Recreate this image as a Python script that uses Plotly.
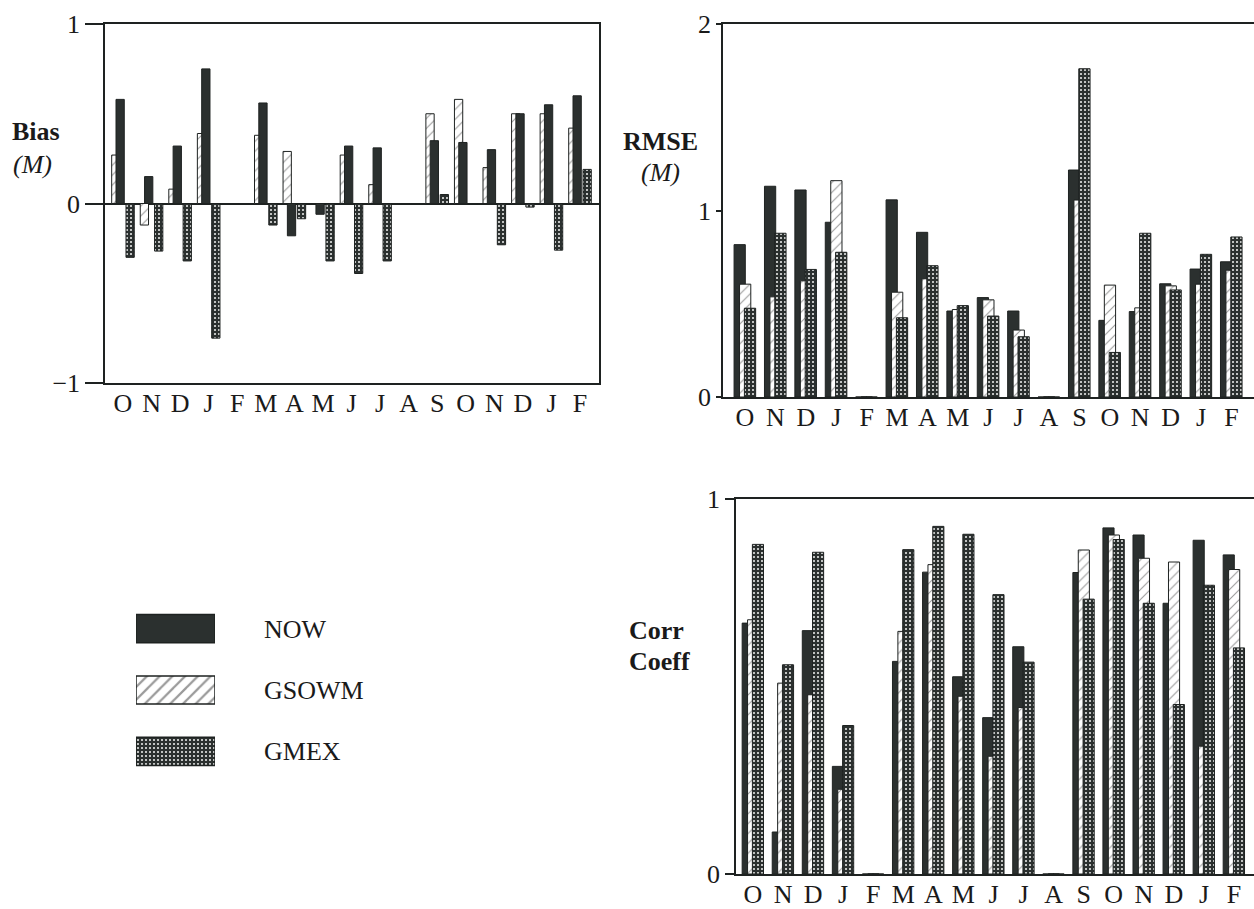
import plotly.graph_objects as go

# ---------------- data ----------------
months = ["O", "N", "D", "J", "F", "M", "A", "M", "J", "J", "A", "S", "O", "N", "D", "J", "F"]
series = ["NOW", "GSOWM", "GMEX"]

bias_now   = [0.58, 0.15, 0.32, 0.75, 0.0, 0.56, -0.18, -0.06, 0.32, 0.31, 0.0, 0.35, 0.34, 0.30, 0.50, 0.55, 0.60]
bias_gsowm = [0.27, -0.12, 0.08, 0.39, 0.0, 0.38, 0.29, 0.0, 0.27, 0.105, 0.0, 0.50, 0.58, 0.20, 0.50, 0.50, 0.42]
bias_gmex  = [-0.30, -0.265, -0.32, -0.75, 0.0, -0.12, -0.085, -0.32, -0.39, -0.32, 0.0, 0.05, -0.005, -0.23, -0.02, -0.26, 0.19]

rmse_now   = [0.817, 1.13, 1.11, 0.937, 0.0, 1.057, 0.883, 0.461, 0.533, 0.461, 0.0, 1.217, 0.411, 0.458, 0.607, 0.686, 0.725]
rmse_gsowm = [0.605, 0.537, 0.623, 1.16, 0.0, 0.562, 0.634, 0.469, 0.521, 0.359, 0.0, 1.056, 0.600, 0.478, 0.596, 0.605, 0.680]
rmse_gmex  = [0.476, 0.878, 0.684, 0.776, 0.0, 0.425, 0.704, 0.490, 0.434, 0.323, 0.0, 1.760, 0.239, 0.878, 0.574, 0.765, 0.858]

corr_now   = [0.669, 0.112, 0.649, 0.287, 0.0, 0.567, 0.805, 0.526, 0.417, 0.606, 0.0, 0.804, 0.923, 0.904, 0.722, 0.890, 0.851]
corr_gsowm = [0.678, 0.509, 0.478, 0.226, 0.0, 0.647, 0.825, 0.474, 0.314, 0.444, 0.0, 0.864, 0.904, 0.842, 0.832, 0.341, 0.812]
corr_gmex  = [0.879, 0.558, 0.858, 0.396, 0.0, 0.865, 0.927, 0.906, 0.745, 0.565, 0.0, 0.733, 0.892, 0.722, 0.452, 0.770, 0.603]

legend_len = [1, 1, 1]

# ---------------- styling ----------------
W, H = 1254, 909
def px(x):
    return x / W
def py(y):
    return (H - y) / H

DARK = "#2b302f"
LINE = "#1e2221"
FONT = "Liberation Serif"

STY = {
    "NOW":   dict(color=DARK, shape="", fg=DARK, bg=DARK, size=8, sol=0.3),
    "GSOWM": dict(color="white", shape="/", fg="#9a9a9a", bg="white", size=7, sol=0.15),
    "GMEX":  dict(color=DARK, shape=".", fg="#f4f4f4", bg=DARK, size=4, sol=0.2),
}

def bar(name, x, y, xa, ya, offset, width, orientation="v", lw=1, size=None, sol=None):
    s = STY[name]
    return go.Bar(
        x=x, y=y, name=name, xaxis=xa, yaxis=ya, showlegend=False, orientation=orientation,
        offset=offset, width=width,
        marker=dict(color=s["color"], line=dict(color=LINE, width=lw),
                    pattern=dict(shape=s["shape"], fgcolor=s["fg"], bgcolor=s["bg"],
                                 size=size or s["size"], solidity=sol or s["sol"],
                                 fillmode="replace")),
        hoverinfo="x+y+name",
    )

idx = list(range(len(months)))
fig = go.Figure()

# Bias panel (GSOWM drawn first, then NOW, then GMEX)
bw = 0.29
fig.add_trace(bar("GSOWM", idx, bias_gsowm, "x", "y", -0.396, bw))
fig.add_trace(bar("NOW", idx, bias_now, "x", "y", -0.245, bw))
fig.add_trace(bar("GMEX", idx, bias_gmex, "x", "y", 0.105, bw))

# RMSE panel
rw = 0.37
fig.add_trace(bar("NOW", idx, rmse_now, "x2", "y2", -0.36, rw))
fig.add_trace(bar("GSOWM", idx, rmse_gsowm, "x2", "y2", -0.18, rw))
fig.add_trace(bar("GMEX", idx, rmse_gmex, "x2", "y2", -0.02, rw))

# Corr panel
fig.add_trace(bar("NOW", idx, corr_now, "x3", "y3", -0.36, rw))
fig.add_trace(bar("GSOWM", idx, corr_gsowm, "x3", "y3", -0.18, rw))
fig.add_trace(bar("GMEX", idx, corr_gmex, "x3", "y3", -0.02, rw))

# Legend swatches drawn as a small horizontal bar chart (one trace per series)
for i, s in enumerate(series):
    tr = bar(s, [legend_len[i]], [s], "x4", "y4", -0.23, 0.46, orientation="h", lw=1.5,
             size=9 if s == "GSOWM" else None, sol=0.25 if s == "GSOWM" else None)
    tr.hoverinfo = "skip"
    fig.add_trace(tr)

tickfont = dict(family=FONT, size=26, color="#1a1a1a")
common_x = dict(tickvals=idx, ticktext=months, ticks="", showgrid=False, zeroline=False,
                showline=True, linecolor=LINE, linewidth=1.5, tickfont=tickfont,
                ticklabelstandoff=-4, fixedrange=True, automargin=False)
common_y = dict(showgrid=False, showline=True, linecolor=LINE, linewidth=1.5,
                ticks="outside", tickcolor=LINE, tickwidth=1.5, tickfont=tickfont,
                fixedrange=True, automargin=False)

fig.update_layout(
    width=W, height=H,
    margin=dict(l=0, r=0, t=0, b=0),
    paper_bgcolor="white", plot_bgcolor="white",
    barmode="overlay",
    font=dict(family=FONT, color="#1a1a1a"),
    xaxis=dict(common_x, domain=[px(105), px(599)], range=[-0.63, 16.665], anchor="y", mirror=True),
    yaxis=dict(common_y, domain=[py(383), py(24)], range=[-1, 1], tickvals=[-1, 0, 1],
               ticklen=18, anchor="x", mirror=True,
               zeroline=True, zerolinecolor=LINE, zerolinewidth=1.5),
    xaxis2=dict(common_x, domain=[px(723), 1.0], range=[-0.724, 16.743], anchor="y2", mirror=True),
    yaxis2=dict(common_y, domain=[py(397), py(24)], range=[0, 2], tickvals=[0, 1, 2],
                ticklen=5, anchor="x2", mirror=False, zeroline=False),
    xaxis3=dict(common_x, domain=[px(736), 1.0], range=[-0.565, 16.665], anchor="y3", mirror=True),
    yaxis3=dict(common_y, domain=[py(874), py(499)], range=[0, 1], tickvals=[0, 1],
                ticklen=9, anchor="x3", mirror=False, zeroline=False),
    xaxis4=dict(domain=[px(136), px(215)], range=[0, 1], visible=False, anchor="y4",
                fixedrange=True, automargin=False),
    yaxis4=dict(domain=[py(782), py(598)], type="category", autorange="reversed",
                categoryorder="array", categoryarray=series,
                side="right", anchor="x4", showline=False, showgrid=False, zeroline=False,
                ticks="", ticklabelstandoff=48, automargin=False,
                tickfont=dict(family=FONT, size=26, color="#1a1a1a"), fixedrange=True),
)

title_font = dict(family=FONT, size=26, color="#1a1a1a")
def note(text, x, y):
    fig.add_annotation(text=text, x=px(x), y=py(y), xref="paper", yref="paper",
                       xanchor="left", yanchor="middle", showarrow=False, font=title_font)

note("<b>Bias</b>", 10, 131)
note("<i>(M)</i>", 11, 164)
note("<b>RMSE</b>", 621, 141)
note("<i>(M)</i>", 639, 172)
note("<b>Corr</b>", 627, 630)
note("<b>Coeff</b>", 627, 661)

fig.write_html("out.html")
